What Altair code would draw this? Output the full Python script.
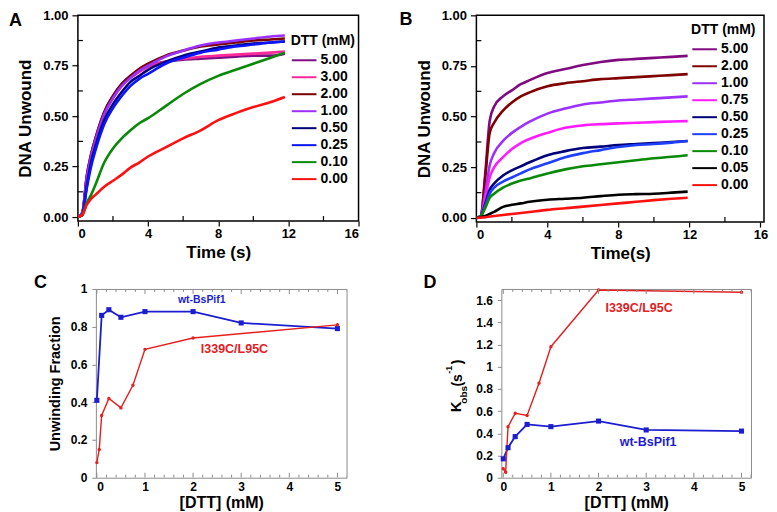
import altair as alt
import pandas as pd

FONT = "Liberation Sans"

# ---------------- Panel A data (DNA unwound vs time) ----------------
a_time = [0, 0.25, 0.5, 0.75, 1, 1.5, 2, 2.5, 3, 3.5, 4, 5, 6, 7, 8, 9, 10, 11, 11.8]
a_dtt = ["5.00", "3.00", "2.00", "1.00", "0.50", "0.25", "0.10", "0.00"]
a_colors = ["#7d0f85", "#ff2a9a", "#7a0000", "#9b30ff", "#00007a", "#0a14ff", "#088a08", "#ff1010"]
a_5_00 = [0, 0.02, 0.20, 0.31, 0.39, 0.52, 0.60, 0.66, 0.70, 0.73, 0.75, 0.77, 0.78, 0.785, 0.79, 0.795, 0.80, 0.80, 0.81]
a_3_00 = [0, 0.02, 0.19, 0.30, 0.38, 0.51, 0.59, 0.65, 0.69, 0.72, 0.745, 0.77, 0.785, 0.795, 0.80, 0.805, 0.81, 0.815, 0.82]
a_2_00 = [0, 0.02, 0.20, 0.31, 0.39, 0.52, 0.60, 0.66, 0.70, 0.735, 0.76, 0.80, 0.825, 0.845, 0.855, 0.865, 0.875, 0.88, 0.885]
a_1_00 = [0, 0.02, 0.19, 0.30, 0.38, 0.51, 0.59, 0.65, 0.69, 0.725, 0.75, 0.795, 0.825, 0.85, 0.865, 0.875, 0.885, 0.895, 0.90]
a_0_50 = [0, 0.01, 0.15, 0.27, 0.35, 0.48, 0.56, 0.62, 0.67, 0.70, 0.73, 0.77, 0.80, 0.82, 0.84, 0.85, 0.86, 0.865, 0.87]
a_0_25 = [0, 0.01, 0.14, 0.25, 0.33, 0.46, 0.54, 0.60, 0.65, 0.685, 0.71, 0.76, 0.79, 0.815, 0.83, 0.845, 0.855, 0.865, 0.87]
a_0_10 = [0, 0.01, 0.07, 0.11, 0.16, 0.27, 0.34, 0.39, 0.43, 0.465, 0.49, 0.55, 0.61, 0.66, 0.70, 0.73, 0.76, 0.79, 0.815]
a_0_00 = [0, 0.01, 0.06, 0.09, 0.11, 0.15, 0.18, 0.21, 0.245, 0.27, 0.30, 0.345, 0.39, 0.43, 0.48, 0.515, 0.545, 0.57, 0.595]
a_values = {"5.00": a_5_00, "3.00": a_3_00, "2.00": a_2_00, "1.00": a_1_00,
            "0.50": a_0_50, "0.25": a_0_25, "0.10": a_0_10, "0.00": a_0_00}

# ---------------- Panel B data ----------------
b_time = [0, 0.25, 0.5, 0.75, 1, 1.5, 2, 2.5, 3, 4, 5, 6, 7, 8, 9, 10, 11, 11.9]
b_dtt = ["5.00", "2.00", "1.00", "0.75", "0.50", "0.25", "0.10", "0.05", "0.00"]
b_colors = ["#800a80", "#800000", "#9b30ff", "#ff1aff", "#00007a", "#1f3fff", "#088a08", "#000000", "#ff1010"]
b_5_00 = [0, 0.01, 0.22, 0.48, 0.55, 0.60, 0.63, 0.66, 0.68, 0.715, 0.735, 0.755, 0.77, 0.78, 0.785, 0.79, 0.795, 0.80]
b_2_00 = [0, 0.01, 0.20, 0.42, 0.47, 0.53, 0.57, 0.60, 0.62, 0.65, 0.665, 0.675, 0.685, 0.69, 0.695, 0.70, 0.705, 0.71]
b_1_00 = [0, 0.01, 0.12, 0.26, 0.32, 0.38, 0.42, 0.45, 0.475, 0.515, 0.54, 0.56, 0.57, 0.58, 0.585, 0.59, 0.595, 0.60]
b_0_75 = [0, 0.01, 0.10, 0.20, 0.25, 0.30, 0.34, 0.37, 0.39, 0.42, 0.445, 0.457, 0.463, 0.467, 0.47, 0.473, 0.476, 0.478]
b_0_50 = [0, 0.01, 0.07, 0.14, 0.17, 0.21, 0.235, 0.255, 0.275, 0.31, 0.33, 0.345, 0.352, 0.36, 0.365, 0.37, 0.375, 0.38]
b_0_25 = [0, 0.01, 0.06, 0.12, 0.15, 0.18, 0.20, 0.22, 0.24, 0.27, 0.30, 0.32, 0.335, 0.35, 0.36, 0.365, 0.372, 0.38]
b_0_10 = [0, 0.01, 0.05, 0.10, 0.12, 0.15, 0.17, 0.185, 0.195, 0.22, 0.24, 0.255, 0.265, 0.275, 0.285, 0.295, 0.302, 0.31]
b_0_05 = [0, 0.005, 0.01, 0.02, 0.03, 0.055, 0.065, 0.072, 0.08, 0.09, 0.095, 0.10, 0.108, 0.115, 0.118, 0.12, 0.125, 0.13]
b_0_00 = [0, 0.002, 0.004, 0.007, 0.01, 0.015, 0.02, 0.025, 0.03, 0.04, 0.048, 0.056, 0.064, 0.072, 0.08, 0.088, 0.095, 0.10]
b_values = {"5.00": b_5_00, "2.00": b_2_00, "1.00": b_1_00, "0.75": b_0_75, "0.50": b_0_50,
            "0.25": b_0_25, "0.10": b_0_10, "0.05": b_0_05, "0.00": b_0_00}

# ---------------- Panel C / D data ----------------
c_wt_x = [0, 0.1, 0.25, 0.5, 1, 2, 3, 5]
c_wt_y = [0.41, 0.86, 0.89, 0.85, 0.88, 0.88, 0.82, 0.79]
c_mut_x = [0, 0.05, 0.1, 0.25, 0.5, 0.75, 1, 2, 5]
c_mut_y = [0.08, 0.15, 0.33, 0.42, 0.37, 0.49, 0.68, 0.74, 0.81]

d_wt_x = [0, 0.1, 0.25, 0.5, 1, 2, 3, 5]
d_wt_y = [0.17, 0.27, 0.37, 0.48, 0.46, 0.51, 0.43, 0.42]
d_mut_x = [0, 0.05, 0.1, 0.25, 0.5, 0.75, 1, 2, 5]
d_mut_y = [0.08, 0.05, 0.46, 0.58, 0.56, 0.85, 1.18, 1.69, 1.67]

# tick positions
kin_x_ticks = [0, 4, 8, 12, 16]
kin_x_minor = [2, 6, 10, 14]
kin_y_ticks = [0, 0.25, 0.5, 0.75, 1.0]
kin_y_minor = [0.125, 0.375, 0.625, 0.875]
dose_x_ticks = [0, 1, 2, 3, 4, 5]
dose_x_minor = [0.2, 0.4, 0.6, 0.8, 1.2, 1.4, 1.6, 1.8, 2.2, 2.4, 2.6, 2.8,
                3.2, 3.4, 3.6, 3.8, 4.2, 4.4, 4.6, 4.8, 5.2]
c_y_ticks = [0, 0.2, 0.4, 0.6, 0.8, 1.0]
d_y_ticks = [0, 0.2, 0.4, 0.6, 0.8, 1.0, 1.2, 1.4, 1.6]

BLUE = "#1c1cd0"
RED = "#e3201f"
GRAY = "#8c8c8c"


def text_layer(txt, x, y, size, color="black", angle=0, align="left", opacity=1.0, weight="bold"):
    return alt.Chart(pd.DataFrame({"s": [txt]})).mark_text(
        align=align, baseline="middle", font=FONT, fontSize=size, fontWeight=weight,
        color=color, angle=angle, opacity=opacity
    ).encode(text="s:N", x=alt.value(x), y=alt.value(y))


def kinetics(values, order, colors, times, W, H, xmax, xtitle, letter, lx, ly, legx, legy):
    rows = []
    for k in order:
        for t, v in zip(times, values[k]):
            rows.append({"t": t, "v": v, "dtt": k})
    df = pd.DataFrame(rows)
    xs = alt.Scale(domain=[0, xmax], nice=False, zero=False)
    ys = alt.Scale(domain=[-0.02, 1.0], nice=False, zero=False)
    xaxis = alt.Axis(
        values=kin_x_ticks, format="d", title=xtitle, tickSize=5, tickColor="black", tickWidth=1.2,
        labelPadding=1, titlePadding=4, domain=False, grid=False, labelOverlap=False,
        labelFont=FONT, labelFontSize=13, labelFontWeight="bold", labelColor="black",
        titleFont=FONT, titleFontSize=17, titleFontWeight="bold", titleColor="black")
    yaxis = alt.Axis(
        values=kin_y_ticks, format=".2f", title="DNA Unwound", tickSize=6, tickColor="black",
        tickWidth=1.2, labelPadding=4, titlePadding=8, domain=False, grid=False, labelOverlap=False,
        labelFont=FONT, labelFontSize=13, labelFontWeight="bold", labelColor="black",
        titleFont=FONT, titleFontSize=17, titleFontWeight="bold", titleColor="black")
    X = alt.X("t:Q", scale=xs, axis=xaxis)
    Y = alt.Y("v:Q", scale=ys, axis=yaxis)
    lines = alt.Chart(df).mark_line(strokeWidth=2.6, interpolate="monotone", clip=True).encode(
        x=X, y=Y,
        color=alt.Color("dtt:N", scale=alt.Scale(domain=order, range=colors), legend=alt.Legend(
            orient="none", legendX=legx, legendY=legy, title="DTT (mM)",
            titleFont=FONT, titleFontSize=14, titleFontWeight="bold", titleColor="black", titlePadding=2,
            labelFont=FONT, labelFontSize=14, labelFontWeight="bold", labelColor="black",
            symbolType="M-1,0H1.8", symbolSize=310, symbolStrokeWidth=2, rowPadding=0,
            labelOffset=10, padding=0)),
    )
    tx = alt.Chart(pd.DataFrame({"t": kin_x_minor})).mark_rule(color="black", strokeWidth=1.2).encode(
        x=X, y=alt.value(H), y2=alt.value(H - 5))
    ty = alt.Chart(pd.DataFrame({"v": kin_y_minor})).mark_rule(color="black", strokeWidth=1.2).encode(
        y=Y, x=alt.value(0), x2=alt.value(5))
    let = text_layer(letter, lx, ly, 18)
    return alt.layer(lines, tx, ty, let).properties(
        width=W, height=H, view=alt.ViewBackground(stroke="black", strokeWidth=1.5))


def dose(wt_x, wt_y, mut_x, mut_y, W, H, xdom, ydom, yticks, ytitle, letter, lx, ly,
         ann, extra_layers):
    df = pd.DataFrame(
        [{"x": a, "y": b, "s": "wt"} for a, b in zip(wt_x, wt_y)]
        + [{"x": a, "y": b, "s": "mut"} for a, b in zip(mut_x, mut_y)])
    xs = alt.Scale(domain=xdom, nice=False, zero=False)
    ys = alt.Scale(domain=ydom, nice=False, zero=False)
    yaxis = alt.Axis(values=yticks, format=".1~f", tickSize=4, tickColor=GRAY, tickWidth=1,
                     labelPadding=5, titlePadding=8, domain=False, grid=False, labelOverlap=False,
                     labelFont=FONT, labelFontSize=12, labelFontWeight="bold", labelColor="black",
                     titleFont=FONT, titleFontSize=14.5, titleFontWeight="bold", titleColor="black",
                     title=ytitle if ytitle else None)
    xaxis = alt.Axis(values=dose_x_ticks, format="d", ticks=False, labelPadding=4, titlePadding=2,
                     domain=False, grid=False, title="[DTT] (mM)", labelOverlap=False,
                     labelFont=FONT, labelFontSize=12, labelFontWeight="bold", labelColor="black",
                     titleFont=FONT, titleFontSize=16, titleFontWeight="bold", titleColor="black")
    X = alt.X("x:Q", scale=xs, axis=xaxis)
    Y = alt.Y("y:Q", scale=ys, axis=yaxis)
    base = alt.Chart(df)
    wt = base.transform_filter(alt.datum.s == "wt")
    mut = base.transform_filter(alt.datum.s == "mut")
    wt_line = wt.mark_line(color=BLUE, strokeWidth=1.8).encode(x=X, y=Y)
    wt_pts = wt.mark_square(color=BLUE, size=26, opacity=1).encode(x=X, y=Y)
    mut_line = mut.mark_line(color=RED, strokeWidth=1.4).encode(x=X, y=Y)
    mut_pts = mut.mark_circle(color=RED, size=12, opacity=1).encode(x=X, y=Y)
    layers = [wt_line, mut_line, wt_pts, mut_pts]
    # inward x ticks on bottom and top
    for vals, ln in ((dose_x_ticks, 5), (dose_x_minor, 3)):
        tdf = pd.DataFrame({"x": vals})
        layers.append(alt.Chart(tdf).mark_rule(color=GRAY, strokeWidth=1, clip=True).encode(
            x=X, y=alt.value(H), y2=alt.value(H - ln)))
        layers.append(alt.Chart(tdf).mark_rule(color=GRAY, strokeWidth=1, clip=True).encode(
            x=X, y=alt.value(0), y2=alt.value(ln)))
    for txt, ax, ay, size, col in ann:
        layers.append(alt.Chart(pd.DataFrame({"x": [ax], "y": [ay], "s": [txt]})).mark_text(
            font=FONT, fontSize=size, fontWeight="bold", color=col, align="center", baseline="middle"
        ).encode(x=X, y=Y, text="s:N"))
    layers.append(text_layer(letter, lx, ly, 18))
    layers.extend(extra_layers)
    return alt.layer(*layers).properties(
        width=W, height=H, view=alt.ViewBackground(stroke=GRAY, strokeWidth=1))


panel_a = kinetics(a_values, a_dtt, a_colors, a_time, 281, 206, 16, "Time (s)", "A", -69, 6, 213, 19)
panel_b = kinetics(b_values, b_dtt, b_colors, b_time, 288, 207, 16.2, "Time(s)", "B", -77, 5, 215, 8)

panel_c = dose(c_wt_x, c_wt_y, c_mut_x, c_mut_y, 251, 189, [-0.02, 5.19], [0, 1.0], c_y_ticks,
               "Unwinding Fraction", "C", -62, -5.5,
               [("wt-BsPif1", 2.18, 0.94, 10.5, BLUE), ("I339C/L95C", 2.86, 0.68, 12.5, RED)],
               [])

d_title = [
    text_layer("K", -45.5, 118, 15, angle=270, align="center"),
    text_layer("obs", -37, 106, 10, angle=270, align="center"),
    text_layer("(s", -43, 91.5, 14, angle=270, align="center"),
    text_layer("-1", -52, 81, 9, angle=270, align="center"),
    text_layer(")", -43, 73, 14, angle=270, align="center"),
]
panel_d = dose(d_wt_x, d_wt_y, d_mut_x, d_mut_y, 250, 189, [-0.04, 5.2], [0, 1.7], d_y_ticks,
               None, "D", -78, -5.5,
               [("I339C/L95C", 2.85, 1.53, 12.5, RED), ("wt-BsPif1", 3.04, 0.32, 12.5, BLUE)],
               d_title)

# a 1x1 empty cell used only to shift the lower row relative to the upper one
empty_cell = alt.Chart(pd.DataFrame({"e": [0]})).mark_point(size=0, opacity=0).encode(
    x=alt.value(0), y=alt.value(0)).properties(width=1, height=1)

row1 = alt.hconcat(panel_a, panel_b, spacing=38).resolve_scale(
    color="independent", x="independent", y="independent")
row2_inner = alt.hconcat(panel_c, panel_d, spacing=75).resolve_scale(x="independent", y="independent")
row2 = alt.hconcat(empty_cell, row2_inner, spacing=-46).resolve_scale(x="independent", y="independent")
chart = alt.vconcat(row1, row2, spacing=12).resolve_scale(
    color="independent", x="independent", y="independent"
).properties(padding=0).configure(font=FONT).configure_view(stroke=None)

chart.save("out.html", embed_options={"renderer": "svg", "actions": False})
